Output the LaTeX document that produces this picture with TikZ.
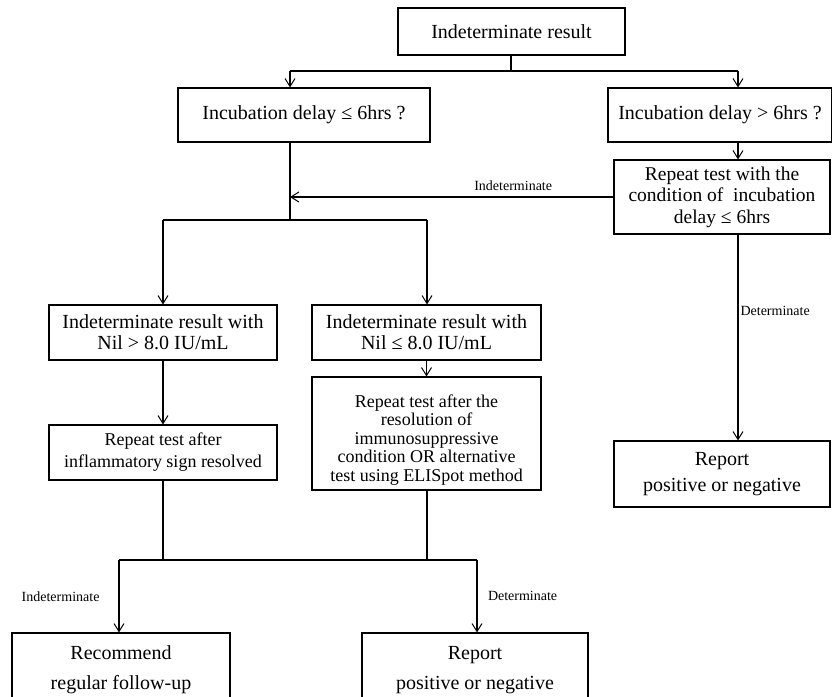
\documentclass[tikz,border=0pt]{standalone}
\usepackage{fontspec}
\setmainfont{Liberation Serif}
\usetikzlibrary{arrows.meta}
\tikzset{
  box/.style={draw, line width=1.1pt, align=center, inner sep=2pt, font=\fontsize{20}{21}\selectfont},
  midbox/.style={box, font=\fontsize{18}{22}\selectfont},
  smallbox/.style={box, font=\fontsize{18}{18.5}\selectfont},
  bigbox/.style={box, font=\fontsize{20}{26}\selectfont},
  endbox/.style={box, font=\fontsize{20}{30}\selectfont},
  conn/.style={line width=1.1pt},
  arr/.style={conn, -{Straight Barb[length=8pt,width=10pt,line width=1pt]}},
  lbl/.style={font=\fontsize{14}{16}\selectfont, inner sep=1pt}
}
\begin{document}
\begin{tikzpicture}[x=1pt,y=-1pt]
\useasboundingbox (0,0) rectangle (832,696);
\fill[white] (0,0) rectangle (832,696);
% nodes
\node[box, minimum width=227pt, minimum height=47pt] (top) at (511.5,31.5) {Indeterminate result};
\node[box, minimum width=252pt, minimum height=54pt] (L1) at (304,115) {Incubation delay ≤ 6hrs ?};
\node[box, minimum width=224pt, minimum height=54pt] (R1) at (720,115) {Incubation delay > 6hrs ?};
\node[box, minimum width=216pt, minimum height=74pt, font=\fontsize{19.5}{21.5}\selectfont] (R2) at (722,197) {Repeat test with the\\condition of\ \ incubation\\delay ≤ 6hrs};
\node[box, minimum width=228pt, minimum height=55pt] (A) at (163,332.5) {Indeterminate result with\\Nil > 8.0 IU/mL};
\node[box, minimum width=229pt, minimum height=55pt] (B) at (426.5,332.5) {Indeterminate result with\\Nil ≤ 8.0 IU/mL};
\node[midbox, minimum width=228pt, minimum height=55pt] (C) at (163,452.5) {Repeat test after\\inflammatory sign resolved};
\node[smallbox, minimum width=229pt, minimum height=113pt] (D) at (426.5,433.5) {\raisebox{-7pt}[\height][\depth]{\begin{tabular}{@{}c@{}}Repeat test after the\\resolution of\\immunosuppressive\\condition OR alternative\\test using ELISpot method\end{tabular}}};
\node[bigbox, minimum width=216pt, minimum height=66pt] (R3) at (722,474) {Report\\positive or negative};
\node[endbox, minimum width=218pt, minimum height=74pt] (E) at (121,670) {Recommend\\regular follow-up};
\node[endbox, minimum width=226pt, minimum height=74pt] (F) at (475,670) {Report\\positive or negative};
% coordinates
\coordinate (t1) at (511,71);
\coordinate (tl) at (290,71);
\coordinate (tr) at (738,71);
\coordinate (m) at (290,220);
\coordinate (ml) at (163,220);
\coordinate (mr) at (427,220);
\coordinate (b1) at (163,560);
\coordinate (b2) at (427,560);
\coordinate (bl) at (119,560);
\coordinate (br) at (477,560);
% connectors
\draw[conn] (top.south -| t1) -- (t1);
\draw[conn] (tl) -- (tr);
\draw[arr] (tl) -- (tl |- L1.north);
\draw[arr] (tr) -- (tr |- R1.north);
\draw[arr] (tr |- R1.south) -- (tr |- R2.north);
\draw[conn] (tl |- L1.south) -- (m);
\draw[arr] (R2.west) -- (R2.west -| m) node[lbl, pos=0.31, above=5pt] (li1) {Indeterminate};
\draw[conn] (ml) -- (mr);
\draw[arr] (ml) -- (A.north);
\draw[arr] (mr) -- (mr |- B.north);
\draw[arr] (A.south) -- (C.north);
\draw[arr] (B.south) -- (B.south |- D.north);
\draw[arr] (tr |- R2.south) -- (tr |- R3.north) node[lbl, pos=0.37, right=1pt] (ld1) {Determinate};
\draw[conn, line width=2pt] (C.south) -- (b1);
\draw[conn] (D.south -| b2) -- (b2);
\draw[conn] (bl) -- (br);
\draw[arr] (bl) -- (bl |- E.north) node[lbl, midway, left=18pt] (li2) {Indeterminate};
\draw[arr, line width=2pt] (br) -- (br |- F.north) node[lbl, midway, right=9pt] (ld2) {Determinate};
\end{tikzpicture}
\end{document}
